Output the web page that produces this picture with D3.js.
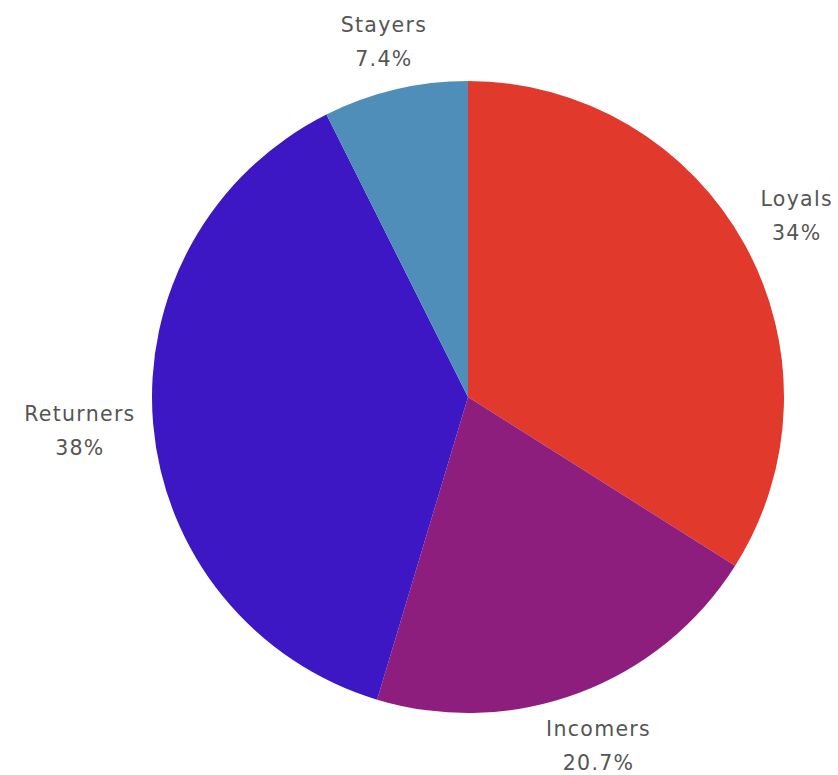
<!DOCTYPE html>
<html>
<head>
<meta charset="utf-8">
<script src="https://cdn.jsdelivr.net/npm/d3@7"></script>
<style>
  html, body { margin: 0; padding: 0; background: #ffffff; }
  svg { display: block; }
  text { font-family: "DejaVu Sans", "Noto Sans", sans-serif; fill: #555555; }
</style>
</head>
<body>
<svg id="chart" width="838" height="775"></svg>
<script>
const categories = ["Loyals", "Incomers", "Returners", "Stayers"];
const shares = [34, 20.7, 38, 7.4];
const shareLabels = ["34%", "20.7%", "38%", "7.4%"];
const palette = ["#e1392b", "#8e1e7d", "#3c17c3", "#4f8eb8"];

const width = 838, height = 775;
const cx = 468, cy = 397, radius = 316;
const labelGap = 16;
const fontSize = 20.5;
const lineStep = 34;

const svg = d3.select("#chart");
const g = svg.append("g").attr("transform", `translate(${cx},${cy})`);

const rows = categories.map((c, i) => ({ name: c, value: shares[i], label: shareLabels[i], color: palette[i] }));

const pie = d3.pie().value(d => d.value).sort(null);
const arc = d3.arc().innerRadius(0).outerRadius(radius);
const arcs = pie(rows);

g.selectAll("path.slice")
  .data(arcs)
  .join("path")
  .attr("class", "slice")
  .attr("d", arc)
  .attr("fill", d => d.data.color);

const labels = g.selectAll("g.label")
  .data(arcs)
  .join("g")
  .attr("class", "label");

labels.append("text")
  .attr("text-anchor", "middle")
  .attr("font-size", fontSize)
  .attr("letter-spacing", 1.3)
  .attr("y", -lineStep / 2)
  .attr("dy", "0.35em")
  .text(d => d.data.name);

labels.append("text")
  .attr("text-anchor", "middle")
  .attr("font-size", fontSize)
  .attr("letter-spacing", 1.3)
  .attr("y", lineStep / 2)
  .attr("dy", "0.35em")
  .text(d => d.data.label);

// place each two-line label just outside the rim along the slice's mid-angle
labels.each(function(d) {
  const node = this;
  const mid = (d.startAngle + d.endAngle) / 2;
  const ux = Math.sin(mid), uy = -Math.cos(mid);
  const w = node.getBBox().width;
  const h = lineStep + 14;
  const half = Math.abs(ux) * w / 2 + Math.abs(uy) * h / 2;
  const r = radius + labelGap + half;
  d3.select(node).attr("transform", `translate(${ux * r},${uy * r})`);
});
</script>
</body>
</html>
